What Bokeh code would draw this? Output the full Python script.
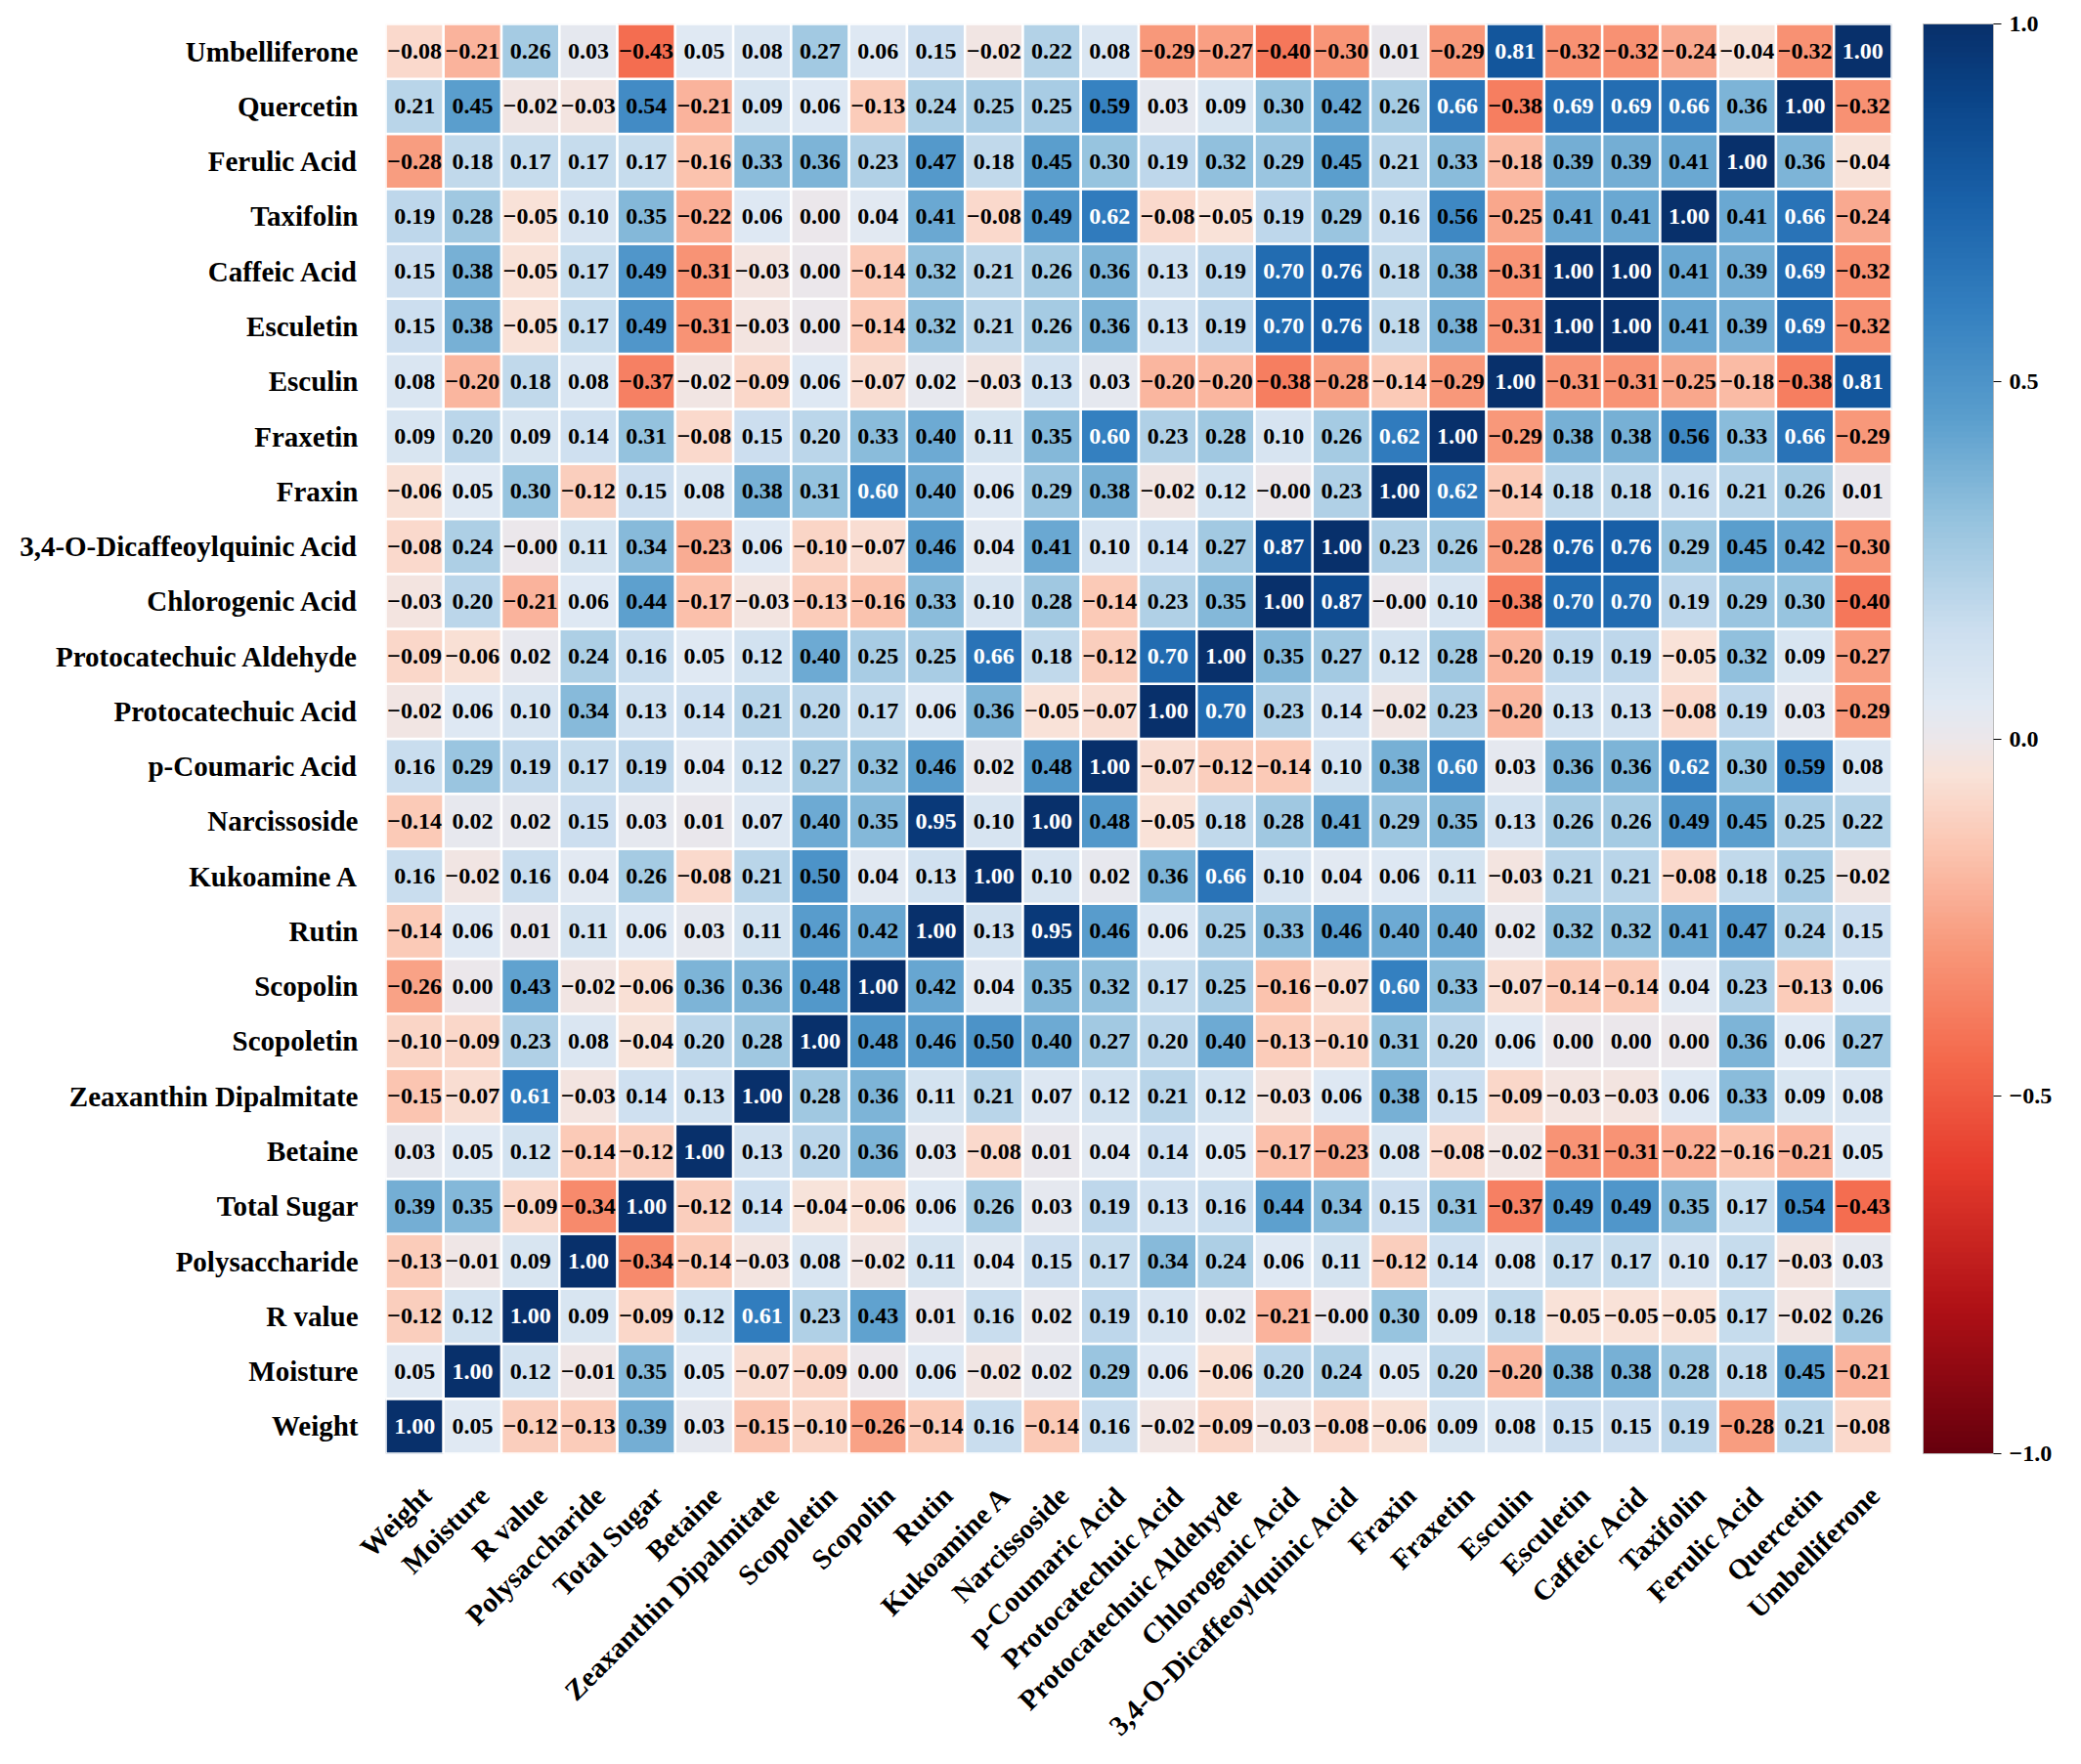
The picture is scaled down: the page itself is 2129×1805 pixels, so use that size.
import numpy as np
from math import pi
from bokeh.plotting import figure
from bokeh.models import (ColumnDataSource, LinearColorMapper, ColorBar, FixedTicker,
                          CustomJSTickFormatter, FactorRange, Range1d, LinearAxis)
from bokeh.core.properties import value
from bokeh.embed import file_html
from bokeh.resources import INLINE

# ---------------- data ----------------
variables = ["Weight", "Moisture", "R value", "Polysaccharide", "Total Sugar", "Betaine",
             "Zeaxanthin Dipalmitate", "Scopoletin", "Scopolin", "Rutin", "Kukoamine A",
             "Narcissoside", "p-Coumaric Acid", "Protocatechuic Acid", "Protocatechuic Aldehyde",
             "Chlorogenic Acid", "3,4-O-Dicaffeoylquinic Acid", "Fraxin", "Fraxetin", "Esculin",
             "Esculetin", "Caffeic Acid", "Taxifolin", "Ferulic Acid", "Quercetin", "Umbelliferone"]

row_umbelliferone = [-0.08, -0.21, 0.26, 0.03, -0.43, 0.05, 0.08, 0.27, 0.06, 0.15, -0.02, 0.22, 0.08, -0.29, -0.27, -0.40, -0.30, 0.01, -0.29, 0.81, -0.32, -0.32, -0.24, -0.04, -0.32, 1.00]
row_quercetin = [0.21, 0.45, -0.02, -0.03, 0.54, -0.21, 0.09, 0.06, -0.13, 0.24, 0.25, 0.25, 0.59, 0.03, 0.09, 0.30, 0.42, 0.26, 0.66, -0.38, 0.69, 0.69, 0.66, 0.36, 1.00, -0.32]
row_ferulic = [-0.28, 0.18, 0.17, 0.17, 0.17, -0.16, 0.33, 0.36, 0.23, 0.47, 0.18, 0.45, 0.30, 0.19, 0.32, 0.29, 0.45, 0.21, 0.33, -0.18, 0.39, 0.39, 0.41, 1.00, 0.36, -0.04]
row_taxifolin = [0.19, 0.28, -0.05, 0.10, 0.35, -0.22, 0.06, 0.00, 0.04, 0.41, -0.08, 0.49, 0.62, -0.08, -0.05, 0.19, 0.29, 0.16, 0.56, -0.25, 0.41, 0.41, 1.00, 0.41, 0.66, -0.24]
row_caffeic = [0.15, 0.38, -0.05, 0.17, 0.49, -0.31, -0.03, 0.00, -0.14, 0.32, 0.21, 0.26, 0.36, 0.13, 0.19, 0.70, 0.76, 0.18, 0.38, -0.31, 1.00, 1.00, 0.41, 0.39, 0.69, -0.32]
row_esculetin = [0.15, 0.38, -0.05, 0.17, 0.49, -0.31, -0.03, 0.00, -0.14, 0.32, 0.21, 0.26, 0.36, 0.13, 0.19, 0.70, 0.76, 0.18, 0.38, -0.31, 1.00, 1.00, 0.41, 0.39, 0.69, -0.32]
row_esculin = [0.08, -0.20, 0.18, 0.08, -0.37, -0.02, -0.09, 0.06, -0.07, 0.02, -0.03, 0.13, 0.03, -0.20, -0.20, -0.38, -0.28, -0.14, -0.29, 1.00, -0.31, -0.31, -0.25, -0.18, -0.38, 0.81]
row_fraxetin = [0.09, 0.20, 0.09, 0.14, 0.31, -0.08, 0.15, 0.20, 0.33, 0.40, 0.11, 0.35, 0.60, 0.23, 0.28, 0.10, 0.26, 0.62, 1.00, -0.29, 0.38, 0.38, 0.56, 0.33, 0.66, -0.29]
row_fraxin = [-0.06, 0.05, 0.30, -0.12, 0.15, 0.08, 0.38, 0.31, 0.60, 0.40, 0.06, 0.29, 0.38, -0.02, 0.12, -0.00, 0.23, 1.00, 0.62, -0.14, 0.18, 0.18, 0.16, 0.21, 0.26, 0.01]
row_dicaffeoyl = [-0.08, 0.24, -0.00, 0.11, 0.34, -0.23, 0.06, -0.10, -0.07, 0.46, 0.04, 0.41, 0.10, 0.14, 0.27, 0.87, 1.00, 0.23, 0.26, -0.28, 0.76, 0.76, 0.29, 0.45, 0.42, -0.30]
row_chlorogenic = [-0.03, 0.20, -0.21, 0.06, 0.44, -0.17, -0.03, -0.13, -0.16, 0.33, 0.10, 0.28, -0.14, 0.23, 0.35, 1.00, 0.87, -0.00, 0.10, -0.38, 0.70, 0.70, 0.19, 0.29, 0.30, -0.40]
row_pc_aldehyde = [-0.09, -0.06, 0.02, 0.24, 0.16, 0.05, 0.12, 0.40, 0.25, 0.25, 0.66, 0.18, -0.12, 0.70, 1.00, 0.35, 0.27, 0.12, 0.28, -0.20, 0.19, 0.19, -0.05, 0.32, 0.09, -0.27]
row_pc_acid = [-0.02, 0.06, 0.10, 0.34, 0.13, 0.14, 0.21, 0.20, 0.17, 0.06, 0.36, -0.05, -0.07, 1.00, 0.70, 0.23, 0.14, -0.02, 0.23, -0.20, 0.13, 0.13, -0.08, 0.19, 0.03, -0.29]
row_coumaric = [0.16, 0.29, 0.19, 0.17, 0.19, 0.04, 0.12, 0.27, 0.32, 0.46, 0.02, 0.48, 1.00, -0.07, -0.12, -0.14, 0.10, 0.38, 0.60, 0.03, 0.36, 0.36, 0.62, 0.30, 0.59, 0.08]
row_narcissoside = [-0.14, 0.02, 0.02, 0.15, 0.03, 0.01, 0.07, 0.40, 0.35, 0.95, 0.10, 1.00, 0.48, -0.05, 0.18, 0.28, 0.41, 0.29, 0.35, 0.13, 0.26, 0.26, 0.49, 0.45, 0.25, 0.22]
row_kukoamine = [0.16, -0.02, 0.16, 0.04, 0.26, -0.08, 0.21, 0.50, 0.04, 0.13, 1.00, 0.10, 0.02, 0.36, 0.66, 0.10, 0.04, 0.06, 0.11, -0.03, 0.21, 0.21, -0.08, 0.18, 0.25, -0.02]
row_rutin = [-0.14, 0.06, 0.01, 0.11, 0.06, 0.03, 0.11, 0.46, 0.42, 1.00, 0.13, 0.95, 0.46, 0.06, 0.25, 0.33, 0.46, 0.40, 0.40, 0.02, 0.32, 0.32, 0.41, 0.47, 0.24, 0.15]
row_scopolin = [-0.26, 0.00, 0.43, -0.02, -0.06, 0.36, 0.36, 0.48, 1.00, 0.42, 0.04, 0.35, 0.32, 0.17, 0.25, -0.16, -0.07, 0.60, 0.33, -0.07, -0.14, -0.14, 0.04, 0.23, -0.13, 0.06]
row_scopoletin = [-0.10, -0.09, 0.23, 0.08, -0.04, 0.20, 0.28, 1.00, 0.48, 0.46, 0.50, 0.40, 0.27, 0.20, 0.40, -0.13, -0.10, 0.31, 0.20, 0.06, 0.00, 0.00, 0.00, 0.36, 0.06, 0.27]
row_zeaxanthin = [-0.15, -0.07, 0.61, -0.03, 0.14, 0.13, 1.00, 0.28, 0.36, 0.11, 0.21, 0.07, 0.12, 0.21, 0.12, -0.03, 0.06, 0.38, 0.15, -0.09, -0.03, -0.03, 0.06, 0.33, 0.09, 0.08]
row_betaine = [0.03, 0.05, 0.12, -0.14, -0.12, 1.00, 0.13, 0.20, 0.36, 0.03, -0.08, 0.01, 0.04, 0.14, 0.05, -0.17, -0.23, 0.08, -0.08, -0.02, -0.31, -0.31, -0.22, -0.16, -0.21, 0.05]
row_total_sugar = [0.39, 0.35, -0.09, -0.34, 1.00, -0.12, 0.14, -0.04, -0.06, 0.06, 0.26, 0.03, 0.19, 0.13, 0.16, 0.44, 0.34, 0.15, 0.31, -0.37, 0.49, 0.49, 0.35, 0.17, 0.54, -0.43]
row_polysaccharide = [-0.13, -0.01, 0.09, 1.00, -0.34, -0.14, -0.03, 0.08, -0.02, 0.11, 0.04, 0.15, 0.17, 0.34, 0.24, 0.06, 0.11, -0.12, 0.14, 0.08, 0.17, 0.17, 0.10, 0.17, -0.03, 0.03]
row_r_value = [-0.12, 0.12, 1.00, 0.09, -0.09, 0.12, 0.61, 0.23, 0.43, 0.01, 0.16, 0.02, 0.19, 0.10, 0.02, -0.21, -0.00, 0.30, 0.09, 0.18, -0.05, -0.05, -0.05, 0.17, -0.02, 0.26]
row_moisture = [0.05, 1.00, 0.12, -0.01, 0.35, 0.05, -0.07, -0.09, 0.00, 0.06, -0.02, 0.02, 0.29, 0.06, -0.06, 0.20, 0.24, 0.05, 0.20, -0.20, 0.38, 0.38, 0.28, 0.18, 0.45, -0.21]
row_weight = [1.00, 0.05, -0.12, -0.13, 0.39, 0.03, -0.15, -0.10, -0.26, -0.14, 0.16, -0.14, 0.16, -0.02, -0.09, -0.03, -0.08, -0.06, 0.09, 0.08, 0.15, 0.15, 0.19, -0.28, 0.21, -0.08]

rows = {
    "Weight": row_weight, "Moisture": row_moisture, "R value": row_r_value,
    "Polysaccharide": row_polysaccharide, "Total Sugar": row_total_sugar, "Betaine": row_betaine,
    "Zeaxanthin Dipalmitate": row_zeaxanthin, "Scopoletin": row_scopoletin, "Scopolin": row_scopolin,
    "Rutin": row_rutin, "Kukoamine A": row_kukoamine, "Narcissoside": row_narcissoside,
    "p-Coumaric Acid": row_coumaric, "Protocatechuic Acid": row_pc_acid,
    "Protocatechuic Aldehyde": row_pc_aldehyde, "Chlorogenic Acid": row_chlorogenic,
    "3,4-O-Dicaffeoylquinic Acid": row_dicaffeoyl, "Fraxin": row_fraxin, "Fraxetin": row_fraxetin,
    "Esculin": row_esculin, "Esculetin": row_esculetin, "Caffeic Acid": row_caffeic,
    "Taxifolin": row_taxifolin, "Ferulic Acid": row_ferulic, "Quercetin": row_quercetin,
    "Umbelliferone": row_umbelliferone,
}

colorbar_ticks = [-1.0, -0.5, 0.0, 0.5, 1.0]

# ---------------- colour map (style) ----------------
anchor_pos = [-1.00, -0.80, -0.60, -0.45, -0.30, -0.15, -0.05, 0.00, 0.05, 0.15, 0.30, 0.45, 0.60, 0.75, 0.90, 1.00]
anchor_rgb = [(103, 0, 13), (175, 16, 22), (230, 60, 45), (244, 105, 76), (248, 150, 120),
              (251, 198, 178), (249, 226, 216), (236, 231, 234), (224, 233, 243), (205, 223, 239),
              (152, 196, 223), (90, 158, 205), (52, 128, 192), (26, 98, 170), (10, 68, 136), (8, 48, 107)]
grid = np.linspace(-1, 1, 256)
arr = np.array(anchor_rgb, dtype=float)
palette = []
for g in grid:
    r = np.interp(g, anchor_pos, arr[:, 0]); gg = np.interp(g, anchor_pos, arr[:, 1]); b = np.interp(g, anchor_pos, arr[:, 2])
    palette.append("#%02x%02x%02x" % (int(round(r)), int(round(gg)), int(round(b))))

mapper = LinearColorMapper(palette=palette, low=-1, high=1)

# ---------------- build table ----------------
n = len(variables)
xs, ys, vs, labels, tcs = [], [], [], [], []
for rname, vals in rows.items():
    for ci, v in enumerate(vals):
        xs.append(ci + 0.5); ys.append(rname); vs.append(v)
        labels.append(("%.2f" % v).replace("-", "\u2212"))
        tcs.append("white" if v >= 0.595 else "black")
src = ColumnDataSource(dict(x=xs, y=ys, v=vs, label=labels, tc=tcs))

FONT = "Liberation Serif"

p = figure(width=2129, height=1805, x_range=Range1d(0, n),
           y_range=FactorRange(factors=variables), output_backend="svg", toolbar_location=None,
           x_axis_location=None,
           min_border_left=394, min_border_right=194, min_border_top=24, min_border_bottom=318)
p.outline_line_color = None
p.grid.visible = False
p.background_fill_color = "white"

p.rect(x="x", y="y", width=1, height=1, source=src,
       fill_color={"field": "v", "transform": mapper}, line_color="white", line_width=2.5)
p.text(x="x", y="y", text="label", source=src, text_color="tc",
       text_font=value(FONT), text_font_style="bold", text_font_size="24px",
       text_align="center", text_baseline="middle")

# x labels: axis on a slightly shifted numeric range (labels sit a bit right of cell centres)
shift = 0.2
p.extra_x_ranges = {"lab": Range1d(start=-shift, end=n - shift)}
xlab = LinearAxis(x_range_name="lab",
                  ticker=FixedTicker(ticks=[i + 0.5 for i in range(n)]),
                  major_label_overrides={i + 0.5: name for i, name in enumerate(variables)})
p.add_layout(xlab, "below")

for ax in (xlab, p.yaxis[0]):
    ax.axis_line_color = None
    ax.major_tick_line_color = None
    ax.minor_tick_line_color = None
    ax.major_tick_out = 0
    ax.major_tick_in = 0
    ax.minor_tick_out = 0
    ax.minor_tick_in = 0
    ax.major_label_text_font = FONT
    ax.major_label_text_font_style = "bold"
    ax.major_label_text_font_size = "29px"
    ax.major_label_text_color = "black"
p.yaxis.major_label_standoff = 28
xlab.major_label_standoff = 38
xlab.major_label_text_baseline = "top"
xlab.major_label_orientation = pi / 4

cb = ColorBar(color_mapper=mapper, width=72, height=1463, margin=0, padding=0, location=(32, 0),
              ticker=FixedTicker(ticks=colorbar_ticks),
              formatter=CustomJSTickFormatter(code="return tick.toFixed(1).replace('-', '\u2212');"),
              major_label_text_font=FONT, major_label_text_font_style="bold",
              major_label_text_font_size="24px", major_label_text_color="black",
              major_tick_out=8, major_tick_in=0, major_tick_line_color="black",
              label_standoff=8, bar_line_color="#bbbbbb", border_line_color=None,
              background_fill_alpha=0)
p.add_layout(cb, "right")

open("out.html", "w").write(file_html(p, INLINE))
